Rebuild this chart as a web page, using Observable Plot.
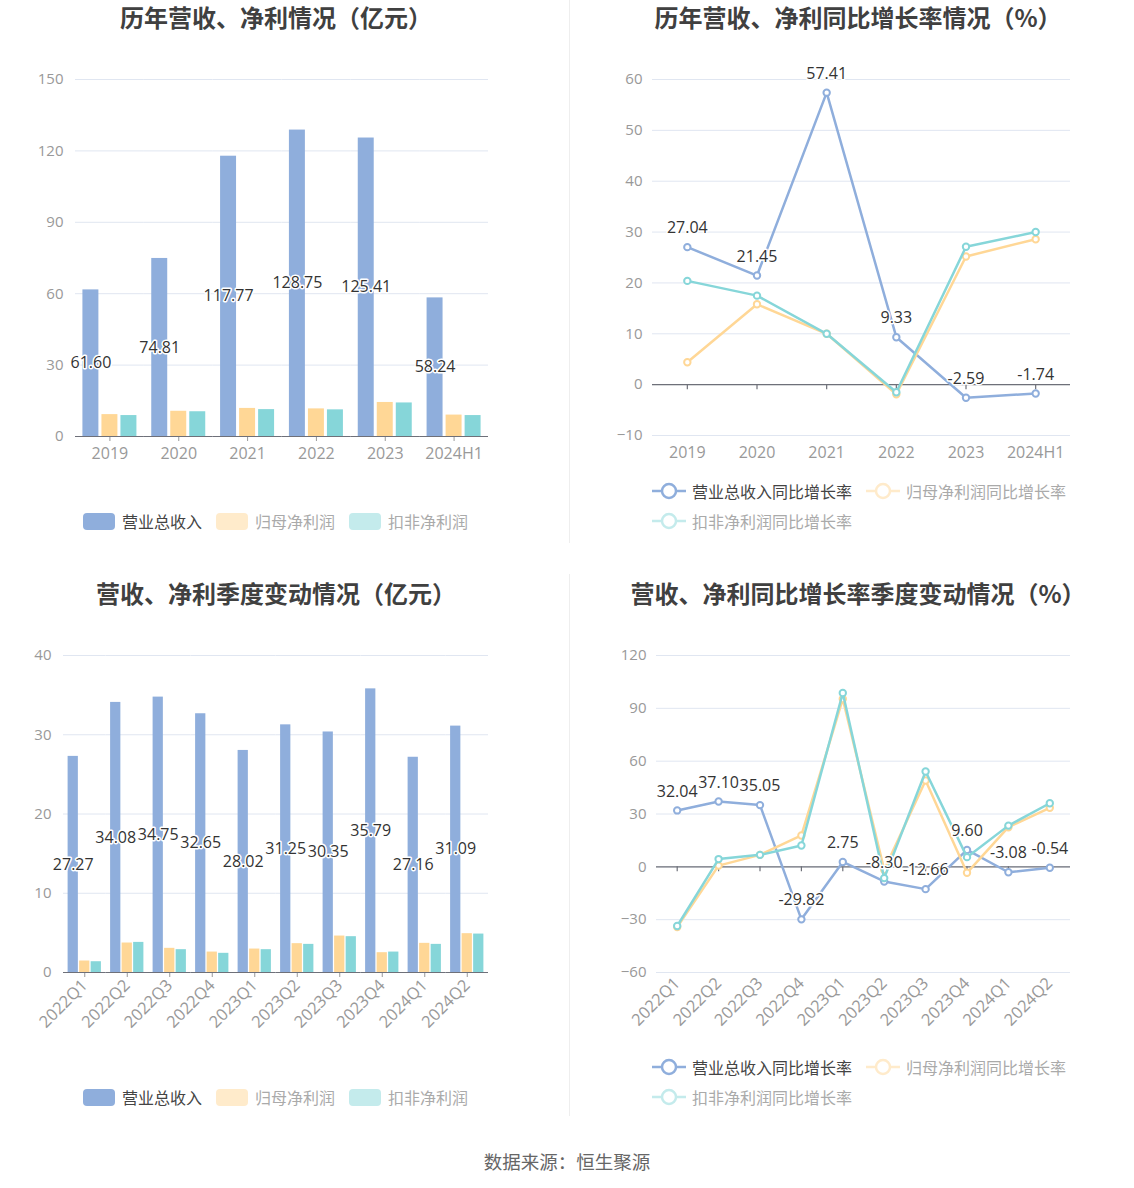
<!DOCTYPE html>
<html>
<head>
<meta charset="utf-8">
<script src="https://cdn.jsdelivr.net/npm/d3@7"></script>
<script src="https://cdn.jsdelivr.net/npm/@observablehq/plot@0.6"></script>
<style>
  html, body { margin: 0; padding: 0; background: #fff; }
  #root { position: relative; width: 1134px; height: 1188px; overflow: hidden; background: #fff;
          font-family: "Open Sans", "Noto Sans CJK SC", sans-serif; }
  .title { position: absolute; width: 566px; text-align: center; font-family: "Noto Sans CJK SC", sans-serif;
           font-weight: bold; font-size: 24px; line-height: 30px; color: #404040; white-space: nowrap; }
  .chart { position: absolute; }
  .legend { position: absolute; font-family: "Noto Sans CJK SC", sans-serif; font-size: 16px; }
  .lrow { display: flex; align-items: center; height: 24px; white-space: nowrap; }
  .litem { display: flex; align-items: center; margin-right: 14px; }
  .sw { width: 32px; height: 17px; border-radius: 4px; margin-right: 7px; }
  .divider { position: absolute; left: 569px; width: 1px; background: #eeeeee; }
  .caption { position: absolute; left: 0; width: 1134px; top: 1148px; text-align: center;
             font-family: "Noto Sans CJK SC", sans-serif; font-size: 18.5px; color: #666; }
</style>
</head>
<body>
<div id="root"></div>
<script>
// ---------------- data ----------------
const years = ["2019", "2020", "2021", "2022", "2023", "2024H1"];
const annualRevenue = [61.60, 74.81, 117.77, 128.75, 125.41, 58.24];
const annualNetProfit = [9.2, 10.6, 11.8, 11.6, 14.3, 9.0];
const annualDeductedProfit = [8.8, 10.4, 11.3, 11.2, 14.1, 8.8];

const annualRevenueGrowth = [27.04, 21.45, 57.41, 9.33, -2.59, -1.74];
const annualNetProfitGrowth = [4.4, 15.8, 10.0, -1.9, 25.2, 28.6];
const annualDeductedGrowth = [20.4, 17.5, 10.0, -1.5, 27.1, 30.0];

const quarters = ["2022Q1", "2022Q2", "2022Q3", "2022Q4", "2023Q1", "2023Q2", "2023Q3", "2023Q4", "2024Q1", "2024Q2"];
const quarterRevenue = [27.27, 34.08, 34.75, 32.65, 28.02, 31.25, 30.35, 35.79, 27.16, 31.09];
const quarterNetProfit = [1.45, 3.72, 3.05, 2.58, 2.96, 3.64, 4.6, 2.5, 3.68, 4.9];
const quarterDeductedProfit = [1.36, 3.8, 2.88, 2.42, 2.88, 3.55, 4.52, 2.58, 3.55, 4.85];

const quarterRevenueGrowth = [32.04, 37.10, 35.05, -29.82, 2.75, -8.30, -12.66, 9.60, -3.08, -0.54];
const quarterNetProfitGrowth = [-34.2, 0.7, 6.8, 17.8, 95.3, -1.7, 49.0, -3.4, 22.5, 33.5];
const quarterDeductedGrowth = [-33.6, 4.4, 6.8, 12.1, 98.7, -6.4, 54.1, 5.5, 23.4, 36.1];

const barSeries = ["营业总收入", "归母净利润", "扣非净利润"];
const lineSeries = ["营业总收入同比增长率", "归母净利润同比增长率", "扣非净利润同比增长率"];
const seriesColors = ["#8FAEDC", "#FFD796", "#86D6D9"];
const legendColors = ["#8FAEDC", "#FFEBCB", "#C4EBEC"];
const legendTextColors = ["#444", "#aaa", "#aaa"];

const titles = ["历年营收、净利情况（亿元）", "历年营收、净利同比增长率情况（%）",
                "营收、净利季度变动情况（亿元）", "营收、净利同比增长率季度变动情况（%）"];
const captionText = "数据来源：恒生聚源";

const annualBarTicks = [0, 30, 60, 90, 120, 150];
const annualLineTicks = [-10, 0, 10, 20, 30, 40, 50, 60];
const quarterBarTicks = [0, 10, 20, 30, 40];
const quarterLineTicks = [-60, -30, 0, 30, 60, 90, 120];

// ---------------- helpers ----------------
const root = document.getElementById("root");
const FONT = "'Open Sans', 'Noto Sans CJK SC', sans-serif";
const GRID = "#E0E6F1";
const AXIS = "#6E7079";

function rows(cats, arrays, names) {
  const out = [];
  cats.forEach((c, i) => arrays.forEach((arr, j) => out.push({cat: c, series: names[j], value: arr[i]})));
  return out;
}

function barChart({cats, arrays, ticks, width, height, ml, mr, mt, mb, rotate, xPadIn, xPadOut, tickPad}) {
  const data = rows(cats, arrays, barSeries);
  const labels = data.filter(d => d.series === barSeries[0]);
  return Plot.plot({
    width, height, marginLeft: ml, marginRight: mr, marginTop: mt, marginBottom: mb,
    style: {fontSize: "15px", fontFamily: FONT, color: "#999", background: "transparent", overflow: "visible"},
    fx: {domain: cats, padding: 0, round: false, label: null, tickSize: 5, tickPadding: tickPad, tickRotate: rotate},
    x: {domain: barSeries, axis: null, round: false, paddingInner: xPadIn, paddingOuter: xPadOut},
    y: {domain: [ticks[0], ticks[ticks.length - 1]], ticks, tickSize: 0, tickPadding: 12, label: null},
    color: {domain: barSeries, range: seriesColors},
    marks: [
      Plot.gridY(ticks, {stroke: GRID, strokeOpacity: 1, strokeWidth: 1}),
      Plot.barY(data, {fx: "cat", x: "series", y: "value", fill: "series"}),
      Plot.ruleY([0], {stroke: AXIS, strokeWidth: 1.2}),
      Plot.text(labels, {fx: "cat", x: "series", y: d => d.value / 2, text: d => d.value.toFixed(2),
        fill: "#333", stroke: "white", strokeWidth: 3, fontSize: 16})
    ]
  });
}

function lineChart({cats, arrays, ticks, width, height, ml, mr, mt, mb, rotate, tickPad}) {
  const data = rows(cats, arrays, lineSeries);
  const labels = data.filter(d => d.series === lineSeries[0]);
  const marks = [
    Plot.gridY(ticks, {stroke: GRID, strokeOpacity: 1, strokeWidth: 1}),
    Plot.ruleY([0], {stroke: AXIS, strokeWidth: 1.2}),
    Plot.ruleX(cats, {x: d => d, y1: d => 0, y2: d => 0, insetTop: 0, insetBottom: -5, stroke: AXIS, strokeWidth: 1.2})
  ];
  lineSeries.forEach((s, j) => {
    const sd = data.filter(d => d.series === s);
    marks.push(Plot.line(sd, {x: "cat", y: "value", stroke: seriesColors[j], strokeWidth: 2.5}));
    marks.push(Plot.dot(sd, {x: "cat", y: "value", r: 3.2, stroke: seriesColors[j], fill: "white", strokeWidth: 2}));
  });
  marks.push(Plot.text(labels, {x: "cat", y: "value", dy: -19, text: d => d.value.toFixed(2),
    fill: "#333", stroke: "white", strokeWidth: 3, fontSize: 16}));
  return Plot.plot({
    width, height, marginLeft: ml, marginRight: mr, marginTop: mt, marginBottom: mb,
    style: {fontSize: "15px", fontFamily: FONT, color: "#999", background: "transparent", overflow: "visible"},
    x: {type: "point", domain: cats, padding: 0.5, round: false, tickSize: 0, tickPadding: tickPad, tickRotate: rotate, label: null},
    y: {domain: [ticks[0], ticks[ticks.length - 1]], ticks, tickSize: 0, tickPadding: 10, label: null},
    marks
  });
}

function bumpXTickFont(svg, size) {
  svg.querySelectorAll("g[aria-label='fx-axis tick label'], g[aria-label='x-axis tick label']").forEach(g => {
    g.setAttribute("font-size", size);
  });
  return svg;
}

function place(el, left, top) {
  const wrap = document.createElement("div");
  wrap.className = "chart";
  wrap.style.left = left + "px";
  wrap.style.top = top + "px";
  wrap.appendChild(el);
  root.appendChild(wrap);
}

function title(text, centerX, top) {
  const d = document.createElement("div");
  d.className = "title";
  d.textContent = text;
  d.style.left = (centerX - 283) + "px";
  d.style.top = top + "px";
  root.appendChild(d);
}

function barLegend(left, centerY) {
  const lg = document.createElement("div");
  lg.className = "legend";
  lg.style.left = left + "px";
  lg.style.top = (centerY - 12) + "px";
  const row = document.createElement("div");
  row.className = "lrow";
  barSeries.forEach((s, j) => {
    const it = document.createElement("div");
    it.className = "litem";
    const sw = document.createElement("div");
    sw.className = "sw";
    sw.style.background = legendColors[j];
    const t = document.createElement("span");
    t.textContent = s;
    t.style.color = legendTextColors[j];
    it.appendChild(sw); it.appendChild(t);
    row.appendChild(it);
  });
  lg.appendChild(row);
  root.appendChild(lg);
}

function lineLegend(left, centerY) {
  const lg = document.createElement("div");
  lg.className = "legend";
  lg.style.left = left + "px";
  const groups = [[0, 1], [2]];
  groups.forEach((g) => {
    const row = document.createElement("div");
    row.className = "lrow";
    row.style.height = "30px";
    g.forEach(j => {
      const it = document.createElement("div");
      it.className = "litem";
      const c = legendColors[j];
      it.innerHTML = `<svg width="34" height="18" style="margin-right:6px"><line x1="0" y1="9" x2="34" y2="9" stroke="${c}" stroke-width="2.5"/><circle cx="17" cy="9" r="7" fill="white" stroke="${c}" stroke-width="2.5"/></svg>`;
      const t = document.createElement("span");
      t.textContent = lineSeries[j];
      t.style.color = legendTextColors[j];
      it.appendChild(t);
      row.appendChild(it);
    });
    lg.appendChild(row);
  });
  lg.style.top = (centerY - 15) + "px";
  root.appendChild(lg);
}

// ---------------- layout ----------------
const d1 = document.createElement("div"); d1.className = "divider"; d1.style.top = "0px"; d1.style.height = "543px"; root.appendChild(d1);
const d2 = document.createElement("div"); d2.className = "divider"; d2.style.top = "574px"; d2.style.height = "542px"; root.appendChild(d2);

title(titles[0], 276, 2);
title(titles[1], 858, 2);
title(titles[2], 276, 578);
title(titles[3], 858, 578);

place(bumpXTickFont(barChart({cats: years, arrays: [annualRevenue, annualNetProfit, annualDeductedProfit], ticks: annualBarTicks,
  width: 567, height: 440, ml: 75, mr: 79, mt: 29, mb: 54, rotate: 0, xPadIn: 0.16, xPadOut: 0.39, tickPad: 6}), 16), 0, 50);

place(bumpXTickFont(lineChart({cats: years, arrays: [annualRevenueGrowth, annualNetProfitGrowth, annualDeductedGrowth], ticks: annualLineTicks,
  width: 567, height: 440, ml: 85, mr: 64, mt: 29, mb: 55, rotate: 0, tickPad: 11}), 16), 567, 50);

place(bumpXTickFont(barChart({cats: quarters, arrays: [quarterRevenue, quarterNetProfit, quarterDeductedProfit], ticks: quarterBarTicks,
  width: 567, height: 440, ml: 63, mr: 79, mt: 35, mb: 88, rotate: -45, xPadIn: 0.11, xPadOut: 0.4, tickPad: 5}), 16.5), 0, 620);

place(bumpXTickFont(lineChart({cats: quarters, arrays: [quarterRevenueGrowth, quarterNetProfitGrowth, quarterDeductedGrowth], ticks: quarterLineTicks,
  width: 567, height: 440, ml: 89, mr: 64, mt: 35, mb: 88, rotate: -45, tickPad: 8}), 16.5), 567, 620);

barLegend(83, 521);
lineLegend(652, 491);
barLegend(83, 1097);
lineLegend(652, 1067);

const cap = document.createElement("div");
cap.className = "caption";
cap.textContent = captionText;
root.appendChild(cap);
</script>
</body>
</html>
